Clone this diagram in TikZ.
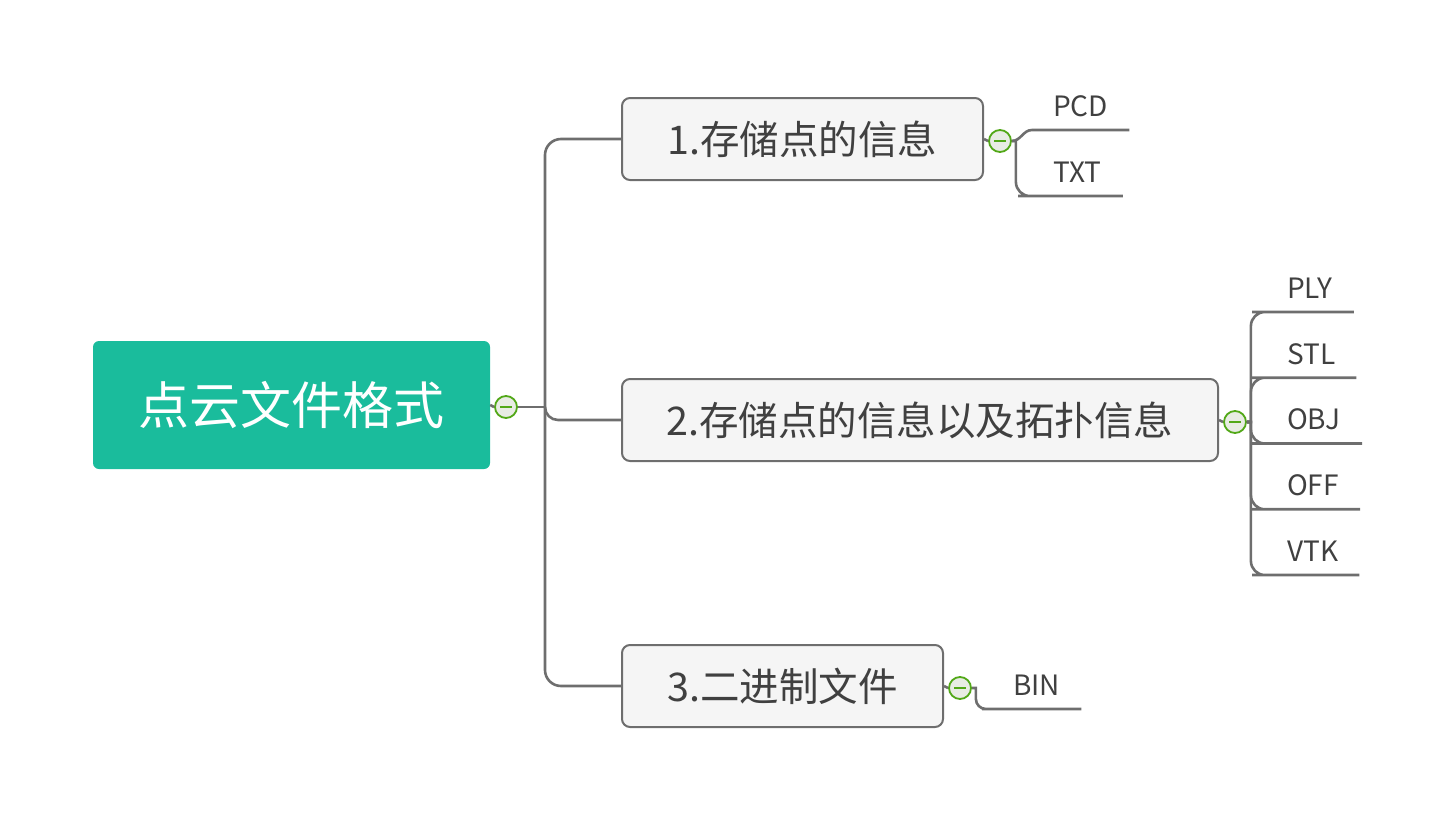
\documentclass[tikz,border=0pt]{standalone}
\usepackage{fontspec}
\setmainfont{Noto Sans CJK SC}
\usetikzlibrary{positioning}
\definecolor{rootteal}{RGB}{26,188,156}
\definecolor{topicfill}{RGB}{245,245,245}
\definecolor{topicline}{RGB}{110,110,110}
\definecolor{linkgray}{RGB}{110,110,110}
\definecolor{textgray}{RGB}{64,64,64}
\definecolor{markgreen}{RGB}{82,168,24}
\definecolor{markfill}{RGB}{232,236,228}

\begin{document}
\begin{tikzpicture}[
    x=1pt, y=-1pt,
    every node/.style={text=textgray},
    root/.style={fill=rootteal, rounded corners=6pt, minimum width=397pt, minimum height=128pt,
        text=white, font=\fontsize{51}{60}\selectfont},
    topic/.style={draw=topicline, line width=2pt, fill=topicfill, rounded corners=8pt,
        minimum height=82pt, font=\fontsize{39.5}{46}\selectfont},
    leaf/.style={anchor=south west, inner xsep=21pt, inner ysep=11pt, text height=0.75em,
        text depth=0.25em, font=\fontsize{28}{34}\selectfont},
    collapse/.style={circle, draw=markgreen, line width=1.8pt, fill=markfill, minimum size=22pt,
        inner sep=0pt, path picture={\draw[markgreen, line width=1.8pt]
        ([xshift=-6pt]path picture bounding box.center) -- ([xshift=6pt]path picture bounding box.center);}},
    branch/.style={draw=linkgray, line width=2.6pt},
]
\useasboundingbox (0,0) rectangle (1452,835);

% main topic
\node[root] (root) at (291.5,405) {点云文件格式};
\node[collapse] (c0) at (506,407) {};
\coordinate (j) at (545,407);

% second level
\node[topic, minimum width=361pt] (t1) at (802.5,139) {1.存储点的信息};
\node[topic, minimum width=596pt] (t2) at (920,420) {2.存储点的信息以及拓扑信息};
\node[topic, minimum width=321pt] (t3) at (782.5,686) {3.二进制文件};

\draw[branch] (root.east) -- (c0.west);
\draw[branch] (c0.east) -- (j);
\draw[branch, rounded corners=16pt] (j) |- (t1.west);
\draw[branch, rounded corners=13pt] (j) |- (t2.west);
\draw[branch, rounded corners=16pt] (j) |- (t3.west);

% 1.
\node[collapse] (c1) at (1000,141) {};
\node[leaf] (pcd) at (1032,130) {PCD};
\node[leaf] (txt) at (1032,196) {TXT};
\draw[branch] (t1.east) -- (c1.west);
\draw[branch] (c1.east) to[out=0, in=180] (pcd.south west) -- (pcd.south east);
\draw[branch] (c1.east) -- ++(4,0) [rounded corners=14pt] |- (txt.south west) [sharp corners] -- (txt.south east);

% 2.
\node[collapse] (c2) at (1235,422) {};
\draw[branch] (t2.east) -- (c2.west);
\foreach \name/\lbl [count=\i] in {ply/PLY, stl/STL, obj/OBJ, off/OFF, vtk/VTK} {
  \node[leaf] (\name) at ({1266},{312+65.75*(\i-1)}) {\lbl};
  \draw[branch] (c2.east) -- ++(4,0) [rounded corners=14pt] |- (\name.south west) [sharp corners] -- (\name.south east);
}

% 3.
\node[collapse] (c3) at (960,688) {};
\node[leaf] (bin) at (992,709) {BIN};
\draw[branch] (t3.east) -- (c3.west);
\draw[branch] (c3.east) -- ++(4,0) [rounded corners=10pt] |- (bin.south west) [sharp corners] -- (bin.south east);
\end{tikzpicture}
\end{document}
